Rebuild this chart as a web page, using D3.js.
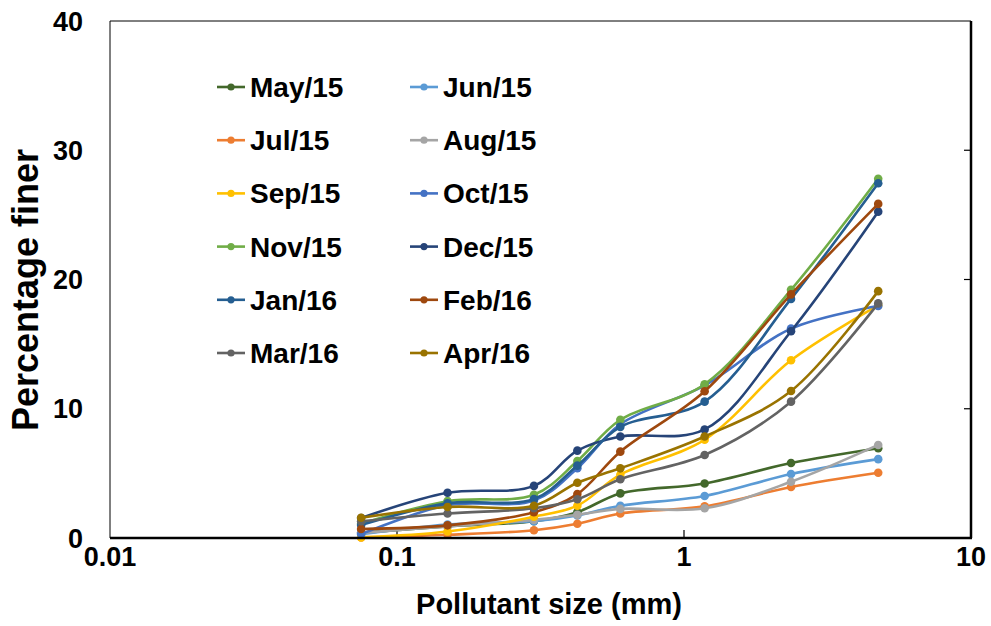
<!DOCTYPE html>
<html>
<head>
<meta charset="utf-8">
<script src="https://cdn.jsdelivr.net/npm/d3@7"></script>
<style>
  html, body { margin: 0; padding: 0; background: #fff; }
  svg { display: block; font-family: "Liberation Sans", Arial, sans-serif; }
</style>
</head>
<body>
<svg id="chart" width="991" height="626"></svg>
<script>
// ---- data ----
const sizes = [0.075, 0.15, 0.3, 0.425, 0.6, 1.18, 2.36, 4.75];
const seriesNames = ["May/15","Jun/15","Jul/15","Aug/15","Sep/15","Oct/15","Nov/15","Dec/15","Jan/16","Feb/16","Mar/16","Apr/16"];
const may15 = [0.4, 0.9, 1.3, 2.0, 3.45, 4.22, 5.8, 6.95];
const jun15 = [0.3, 1.05, 1.3, 1.75, 2.5, 3.25, 4.95, 6.1];
const jul15 = [0.05, 0.25, 0.6, 1.1, 1.9, 2.45, 3.95, 5.05];
const aug15 = [0.4, 0.9, 1.4, 1.8, 2.25, 2.3, 4.35, 7.2];
const sep15 = [0.05, 0.5, 1.65, 2.5, 4.9, 7.6, 13.75, 18.0];
const oct15 = [0.3, 2.55, 2.9, 5.4, 8.8, 11.8, 16.2, 17.95];
const nov15 = [1.1, 2.85, 3.35, 5.95, 9.15, 11.9, 19.2, 27.8];
const dec15 = [1.55, 3.5, 4.03, 6.76, 7.85, 8.4, 16.0, 25.25];
const jan16 = [1.0, 2.68, 3.02, 5.6, 8.6, 10.55, 18.5, 27.45];
const feb16 = [0.7, 0.98, 2.0, 3.4, 6.68, 11.35, 18.85, 25.85];
const mar16 = [1.3, 1.9, 2.3, 3.0, 4.55, 6.42, 10.55, 18.15];
const apr16 = [1.57, 2.4, 2.5, 4.28, 5.39, 7.85, 11.37, 19.1];
const seriesValues = [may15, jun15, jul15, aug15, sep15, oct15, nov15, dec15, jan16, feb16, mar16, apr16];
const colors = ["#43682B","#5B9BD5","#ED7D31","#A5A5A5","#FFC000","#4472C4","#70AD47","#264478","#255E91","#9E480E","#636363","#997300"];
const xTicks = [0.01, 0.1, 1, 10];
const xTickLabels = ["0.01", "0.1", "1", "10"];
const yTicks = [0, 10, 20, 30, 40];
const xTitle = "Pollutant size (mm)";
const yTitle = "Percentage finer";

// ---- layout ----
const L = 110, R = 971, T = 21, B = 538;
const svg = d3.select("#chart");
const x = d3.scaleLog().domain([0.01, 10]).range([L, R]);
const y = d3.scaleLinear().domain([0, 40]).range([B, T]);

// frame
svg.append("line").attr("x1", L).attr("x2", L).attr("y1", T).attr("y2", B).attr("stroke", "#000").attr("stroke-width", 1);
svg.append("line").attr("x1", L).attr("x2", R).attr("y1", T).attr("y2", T).attr("stroke", "#000").attr("stroke-width", 1);

// inner ticks on right axis
svg.append("g").selectAll("line").data(yTicks.filter(d => d > 0 && d < 40)).join("line")
  .attr("x1", R - 7).attr("x2", R).attr("y1", d => y(d)).attr("y2", d => y(d))
  .attr("stroke", "#000").attr("stroke-width", 1.2);
// inner ticks on bottom axis
svg.append("g").selectAll("line").data(xTicks.filter(d => d > 0.01 && d < 10)).join("line")
  .attr("x1", d => x(d)).attr("x2", d => x(d)).attr("y1", B - 8).attr("y2", B)
  .attr("stroke", "#000").attr("stroke-width", 1.2);

// y tick labels
svg.append("g").selectAll("text").data(yTicks).join("text")
  .attr("x", 83).attr("y", d => y(d)).attr("dy", "0.36em")
  .attr("text-anchor", "end").attr("font-size", 27).attr("font-weight", "bold")
  .text(d => d);
// x tick labels
svg.append("g").selectAll("text").data(xTicks).join("text")
  .attr("x", d => x(d)).attr("y", 566)
  .attr("text-anchor", "middle").attr("font-size", 27).attr("font-weight", "bold")
  .text((d, i) => xTickLabels[i]);

// titles
svg.append("text").attr("x", 549).attr("y", 614).attr("text-anchor", "middle")
  .attr("font-size", 29).attr("font-weight", "bold").text(xTitle);
svg.append("text").attr("transform", "translate(38,290) rotate(-90)").attr("text-anchor", "middle")
  .attr("font-size", 36).attr("font-weight", "bold").text(yTitle);

// series
const line = d3.line().x(d => x(d[0])).y(d => y(d[1])).curve(d3.curveCatmullRom.alpha(0.5));
const gS = svg.append("g");
seriesValues.forEach((vals, i) => {
  const pts = sizes.map((s, j) => [s, vals[j]]);
  gS.append("path").attr("d", line(pts)).attr("fill", "none")
    .attr("stroke", colors[i]).attr("stroke-width", 2.6);
  gS.append("g").selectAll("circle").data(pts).join("circle")
    .attr("cx", d => x(d[0])).attr("cy", d => y(d[1])).attr("r", 4.3)
    .attr("fill", colors[i]);
});

// thick axis lines (bottom & right)
svg.append("line").attr("x1", L).attr("x2", R + 1).attr("y1", B).attr("y2", B).attr("stroke", "#000").attr("stroke-width", 2.5);
svg.append("line").attr("x1", R).attr("x2", R).attr("y1", T).attr("y2", B).attr("stroke", "#000").attr("stroke-width", 2.5);

// legend
const leg = svg.append("g");
seriesNames.forEach((name, i) => {
  const col = i % 2, row = Math.floor(i / 2);
  const lx = col === 0 ? 217 : 410;
  const ly = 87 + row * 53.2;
  const g = leg.append("g");
  g.append("line").attr("x1", lx).attr("x2", lx + 28).attr("y1", ly).attr("y2", ly)
    .attr("stroke", colors[i]).attr("stroke-width", 2.6);
  g.append("circle").attr("cx", lx + 14).attr("cy", ly).attr("r", 3.6).attr("fill", colors[i]);
  g.append("text").attr("x", lx + 33).attr("y", ly).attr("dy", "0.36em")
    .attr("font-size", 28).attr("font-weight", "bold").text(name);
});
</script>
</body>
</html>
